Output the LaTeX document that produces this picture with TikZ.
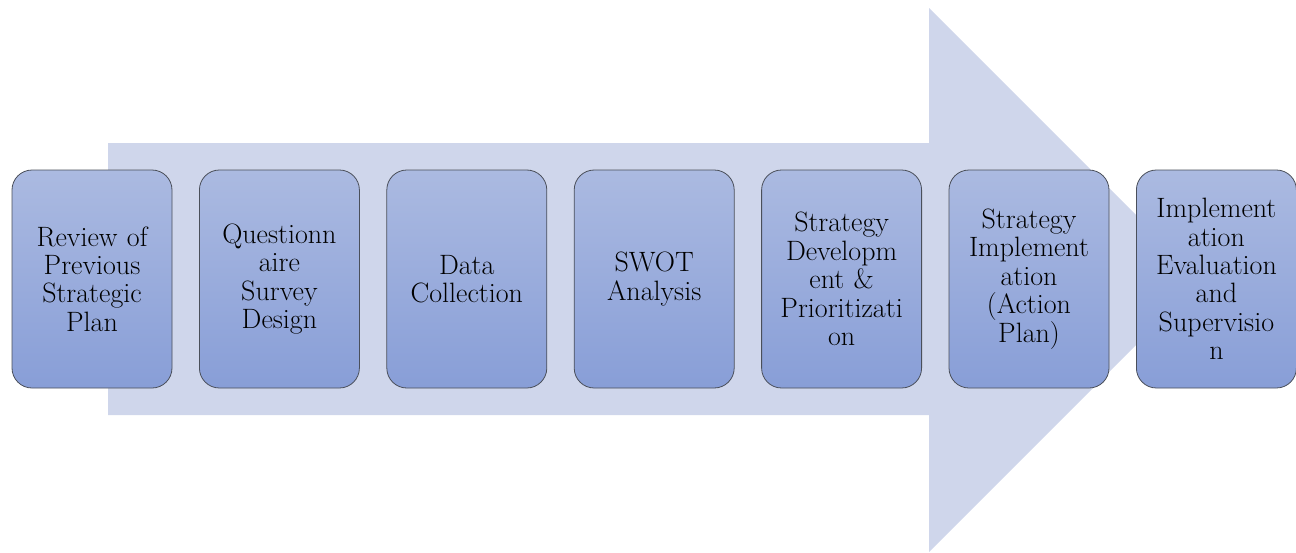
\documentclass[tikz,border=0pt]{standalone}
\usepackage{fontspec}
\usetikzlibrary{positioning}

\definecolor{arrowfill}{HTML}{CFD6EB}
\definecolor{boxtop}{HTML}{ABBAE1}
\definecolor{boxbottom}{HTML}{889ED7}
\definecolor{boxline}{HTML}{4A4F5A}

\tikzset{
   stepbox/.style={draw=boxline,thick,rounded corners=20pt,
      top color=boxtop,bottom color=boxbottom,
      minimum width=160pt,minimum height=218pt,
      text width=158pt,align=center,inner sep=0pt,
      font=\fontsize{28}{28.4}\selectfont},
}

\begin{document}
\begin{tikzpicture}[x=1pt,y=-1pt]
            \useasboundingbox (0,0) rectangle (1296,552);
            % big arrow behind the steps
            \fill [arrowfill] 
               (108,143) -- (929,143) -- (929,8) -- (1201,280)
               -- (929,552) -- (929,415) -- (108,415) -- cycle;

            \node [stepbox] (review) at (92,279)
               {Review of\\Previous\\Strategic\\Plan};
            \node [stepbox,right=26.6pt of review] (survey)
               {Questionn\\aire\\Survey\\Design};
            \node [stepbox,right=26.6pt of survey] (collect)
               {Data\\Collection};
            \node [stepbox,right=26.6pt of collect] (swot)
               {SWOT\\Analysis};
            \node [stepbox,right=26.6pt of swot] (develop)
               {Strategy\\Developm\\ent \&\\Prioritizati\\on};
            \node [stepbox,right=26.6pt of develop] (action)
               {Strategy\\Implement\\ation\\(Action\\Plan)};
            \node [stepbox,right=26.6pt of action] (evaluate)
               {Implement\\ation\\Evaluation\\and\\Supervisio\\n};
         \end{tikzpicture}
\end{document}
